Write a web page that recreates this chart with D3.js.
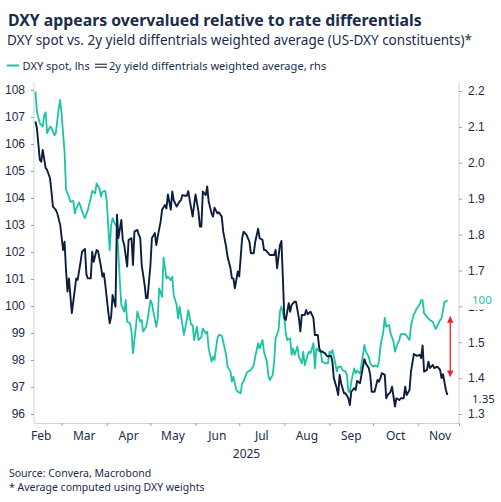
<!DOCTYPE html>
<html>
<head>
<meta charset="utf-8">
<script src="https://cdn.jsdelivr.net/npm/d3@7"></script>
<style>
  body { margin: 0; background: #fff; }
  svg { display: block; font-family: "Noto Sans", "Open Sans", sans-serif; }
</style>
</head>
<body>
<svg id="chart" width="501" height="502"></svg>
<script>
// DXY spot (lhs) – dates and levels
const dxyDates = [
  "02-11","02-12","02-14","02-16","02-17","02-18","02-19","02-21","02-22","02-24","02-25","02-27","02-28",
  "03-01","03-03","03-04","03-06","03-07","03-09","03-10","03-11","03-13","03-14","03-16","03-17","03-19",
  "03-21","03-22","03-24","03-25","03-27","03-28","03-29","03-31","04-01","04-03","04-04","04-05","04-07",
  "04-08","04-10","04-11","04-13","04-14","04-15","04-17","04-18","04-19","04-21","04-22","04-24","04-25",
  "04-26","04-28","04-29","05-01","05-02","05-03","05-05","05-06","05-07","05-09","05-10","05-12","05-13",
  "05-15","05-16","05-17","05-19","05-20","05-21","05-23","05-24","05-26","05-27","05-29","05-30","05-31",
  "06-02","06-03","06-05","06-06","06-08","06-09","06-10","06-12","06-13","06-14","06-16","06-17","06-19",
  "06-20","06-22","06-23","06-25","06-26","06-27","06-29","06-30","07-02","07-03","07-04","07-06","07-07",
  "07-09","07-11","07-12","07-14","07-15","07-17","07-18","07-20","07-21","07-22","07-24","07-25","07-26",
  "07-28","07-29","07-30","08-01","08-02","08-03","08-05","08-06","08-07","08-08","08-10","08-11","08-13",
  "08-14","08-15","08-17","08-18","08-19","08-21","08-22","08-23","08-25","08-26","08-27","08-29","08-31",
  "09-01","09-02","09-03","09-05","09-06","09-07","09-09","09-10","09-12","09-13","09-14","09-15","09-16",
  "09-18","09-19","09-20","09-22","09-24","09-25","09-26","09-28","09-29","10-01","10-02","10-04","10-05",
  "10-06","10-08","10-09","10-10","10-12","10-13","10-15","10-16","10-17","10-19","10-20","10-22","10-23",
  "10-24","10-26","10-27","10-29","10-30","10-31","11-02","11-03","11-04","11-05","11-07","11-08","11-09",
  "11-11","11-12","11-13","11-15","11-16","11-17","11-19","11-20","11-21"
];
const dxyValues = [
  107.94,107.2,106.77,106.64,107.07,107.17,106.4,106.64,106.6,106.33,106.4,107.32,107.63,
  107.07,105.71,104.3,104.05,103.86,103.89,103.43,103.61,103.84,103.68,103.37,103.25,103.56,
  103.99,104.26,104.17,104.54,104.36,104.05,104.23,104.26,103.86,102.07,103.0,103.25,103.0,
  102.94,100.9,100.04,99.79,100.22,99.42,99.36,99.05,98.25,99.23,99.79,99.42,99.48,
  99.05,99.23,99.48,100.22,100.1,99.79,99.23,99.54,100.65,100.34,101.79,101.02,101.09,
  100.96,101.09,100.4,100.04,99.54,99.98,99.3,98.93,99.48,99.85,99.3,99.3,98.74,
  99.23,98.74,98.86,99.17,98.99,99.05,98.43,97.94,98.12,98.0,98.8,98.93,98.9,
  98.68,98.19,97.75,97.57,97.2,97.38,96.89,96.83,96.77,97.14,97.2,97.51,97.57,
  97.63,97.81,98.12,98.62,98.43,98.74,98.31,97.94,97.44,97.26,97.44,97.94,98.8,
  99.1,99.79,99.98,99.54,98.99,98.74,98.8,98.19,98.43,98.19,98.5,98.12,97.88,
  98.31,97.81,98.19,98.31,98.25,98.62,97.69,98.43,98.31,98.31,97.94,97.88,97.88,
  98.31,98.25,98.37,97.88,97.57,97.75,97.75,97.63,97.57,97.44,96.85,96.8,97.2,
  97.69,97.51,97.6,97.5,98.19,98.56,98.31,98.12,97.88,97.75,97.8,97.75,97.94,
  98.5,99.05,99.57,99.23,99.3,98.99,98.68,98.31,98.5,98.74,98.96,98.96,98.96,
  98.9,98.74,99.27,99.7,99.79,99.91,100.06,100.22,100.22,99.73,99.6,99.54,99.48,
  99.42,99.27,99.15,99.36,99.48,99.54,100.16,100.16,100.22
];

// 2y yield differentials weighted average (rhs)
const diffDates = [
  "02-11","02-12","02-14","02-15","02-16","02-18","02-19","02-21","02-22","02-23","02-25","02-26","02-28",
  "03-02","03-03","03-04","03-05","03-06","03-08","03-10","03-11","03-12","03-14","03-15","03-17","03-18",
  "03-19","03-21","03-22","03-23","03-25","03-26","03-28","03-29","03-30","03-31","04-02","04-03","04-04",
  "04-05","04-07","04-08","04-09","04-11","04-12","04-13","04-15","04-16","04-18","04-19","04-20","04-22",
  "04-23","04-24","04-25","04-27","04-28","04-29","05-01","05-02","05-04","05-05","05-06","05-08","05-09",
  "05-11","05-12","05-13","05-15","05-16","05-17","05-19","05-21","05-22","05-23","05-25","05-26","05-27",
  "05-28","05-30","05-31","06-01","06-03","06-04","06-05","06-06","06-08","06-09","06-10","06-12","06-13",
  "06-14","06-16","06-17","06-19","06-20","06-22","06-23","06-25","06-26","06-27","06-28","06-30","07-01",
  "07-03","07-04","07-06","07-08","07-09","07-11","07-12","07-14","07-15","07-17","07-18","07-19","07-21",
  "07-22","07-23","07-25","07-26","07-27","07-29","07-30","07-31","08-01","08-02","08-04","08-05","08-06",
  "08-08","08-09","08-11","08-12","08-13","08-15","08-16","08-17","08-19","08-20","08-21","08-22","08-24",
  "08-25","08-26","08-27","08-29","08-30","08-31","09-02","09-03","09-04","09-06","09-07","09-08","09-09",
  "09-11","09-12","09-14","09-15","09-16","09-18","09-19","09-20","09-22","09-23","09-25","09-26","09-28",
  "09-29","09-30","10-02","10-04","10-05","10-06","10-07","10-09","10-10","10-11","10-13","10-14","10-16",
  "10-17","10-19","10-20","10-22","10-23","10-24","10-26","10-27","10-29","10-30","10-31","11-02","11-03",
  "11-04","11-05","11-07","11-08","11-09","11-11","11-12","11-14","11-15","11-16","11-17","11-18","11-20",
  "11-21"
];
const diffValues = [
  2.115,2.096,2.008,2.003,2.036,1.985,1.98,1.957,1.92,1.878,1.869,1.859,1.827,
  1.757,1.78,1.701,1.641,1.678,1.581,1.646,1.678,1.674,1.724,1.752,1.76,1.689,
  1.678,1.678,1.752,1.724,1.757,1.754,1.711,1.683,1.692,1.66,1.585,1.553,1.571,
  1.632,1.599,1.855,1.79,1.841,1.785,1.771,1.711,1.785,1.79,1.715,1.808,1.813,
  1.799,1.79,1.715,1.66,1.623,1.623,1.715,1.79,1.804,1.771,1.794,1.836,1.869,
  1.882,1.873,1.912,1.869,1.92,1.896,1.878,1.892,1.896,1.91,1.908,1.908,1.921,
  1.896,1.85,1.882,1.912,1.864,1.822,1.822,1.92,1.91,1.934,1.892,1.859,1.85,
  1.875,1.859,1.862,1.85,1.808,1.766,1.738,1.706,1.678,1.678,1.65,1.697,1.683,
  1.79,1.808,1.799,1.78,1.748,1.748,1.78,1.816,1.79,1.785,1.757,1.757,1.748,
  1.743,1.743,1.743,1.757,1.706,1.771,1.782,1.678,1.567,1.562,1.609,1.585,1.604,
  1.613,1.613,1.567,1.53,1.576,1.576,1.59,1.578,1.585,1.576,1.567,1.52,1.52,
  1.483,1.474,1.474,1.469,1.463,1.46,1.463,1.446,1.4,1.372,1.353,1.409,1.386,
  1.358,1.358,1.344,1.325,1.362,1.372,1.367,1.392,1.386,1.409,1.453,1.441,1.428,
  1.409,1.362,1.362,1.395,1.39,1.4,1.414,1.409,1.344,1.353,1.362,1.376,1.321,
  1.344,1.339,1.344,1.344,1.376,1.353,1.367,1.418,1.467,1.465,1.462,1.465,1.456,
  1.491,1.418,1.423,1.446,1.428,1.437,1.428,1.432,1.428,1.423,1.4,1.411,1.367,
  1.353
];

// axis ticks and labels
const leftTicks = [96, 97, 98, 99, 100, 101, 102, 103, 104, 105, 106, 107, 108];
const rightTicks = [1.3, 1.4, 1.5, 1.6, 1.7, 1.8, 1.9, 2.0, 2.1, 2.2];
const monthLabels = ["Feb", "Mar", "Apr", "May", "Jun", "Jul", "Aug", "Sep", "Oct", "Nov"];
const yearLabel = "2025";
const xStart = "02-10", xEnd = "11-29";

// end-of-series labels and the gap arrow
const dxyLast = "100";
const diffLast = "1.35";
const arrowDate = "11-23", arrowTop = 99.6, arrowBottom = 1.405;

const teal = "#1cc3a5", navy = "#0c1e3c", ink = "#1b2c4b", grid = "#d0d4da";

const parse = s => d3.timeParse("%Y-%m-%d")("2025-" + s);
const dxy = dxyDates.map((d, i) => ({ date: parse(d), value: dxyValues[i] }));
const diff = diffDates.map((d, i) => ({ date: parse(d), value: diffValues[i] }));

const svg = d3.select("#chart");
const plot = { left: 34, right: 459, top: 82, bottom: 423 };

const x = d3.scaleTime()
  .domain([parse(xStart), parse(xEnd)])
  .range([plot.left, plot.right]);
const yL = d3.scaleLinear().domain([95.667, 108.296]).range([plot.bottom, plot.top]);
const yR = d3.scaleLinear().domain([1.275, 2.225]).range([plot.bottom, plot.top]);

// titles
svg.append("text").attr("x", 8).attr("y", 25.5)
  .style("font-size", "15.8px").style("font-weight", "bold").style("fill", ink)
  .text("DXY appears overvalued relative to rate differentials");
svg.append("text").attr("x", 7).attr("y", 45)
  .style("font-size", "13.5px").style("fill", ink)
  .text("DXY spot vs. 2y yield diffentrials weighted average (US-DXY constituents)*");

// legend
const legend = svg.append("g").style("font-size", "11.1px").style("fill", ink);
legend.append("line").attr("x1", 7).attr("x2", 19).attr("y1", 65.5).attr("y2", 65.5)
  .attr("stroke", teal).attr("stroke-width", 2);
legend.append("text").attr("x", 22.5).attr("y", 69.5).text("DXY spot, lhs");
[64.3, 67.3].forEach(yy => legend.append("line").attr("x1", 95).attr("x2", 107)
  .attr("y1", yy).attr("y2", yy).attr("stroke", "#4a5568").attr("stroke-width", 1.4));
legend.append("text").attr("x", 109).attr("y", 69.5).text("2y yield diffentrials weighted average, rhs");

// axes frame
svg.append("line").attr("x1", plot.left).attr("x2", plot.left).attr("y1", plot.top).attr("y2", plot.bottom)
  .attr("stroke", grid);
svg.append("line").attr("x1", plot.right).attr("x2", plot.right).attr("y1", plot.top).attr("y2", plot.bottom)
  .attr("stroke", grid);

const leftAxis = svg.append("g").attr("transform", `translate(${plot.left},0)`)
  .call(d3.axisLeft(yL).tickValues(leftTicks).tickSize(3).tickPadding(6));
const rightAxis = svg.append("g").attr("transform", `translate(${plot.right},0)`)
  .call(d3.axisRight(yR).tickValues(rightTicks).tickSize(3).tickPadding(6).tickFormat(d3.format(".1f")));
const monthStarts = d3.timeMonth.range(parse("03-01"), parse("11-02")).concat([parse(xEnd)]);
const bottomAxis = svg.append("g").attr("transform", `translate(0,${plot.bottom})`)
  .call(d3.axisBottom(x).tickValues(monthStarts).tickSize(3).tickSizeOuter(0).tickFormat(""));

[leftAxis, rightAxis, bottomAxis].forEach(g => {
  g.select(".domain").attr("stroke", grid);
  g.selectAll(".tick line").attr("stroke", "#9aa1ab");
  g.selectAll("text").style("font-size", "12px").style("fill", ink).style("font-family", "inherit");
});
leftAxis.select(".domain").remove();
rightAxis.select(".domain").remove();

// month labels centred on each month
svg.append("g").selectAll("text").data(monthLabels).join("text")
  .attr("x", (m, i) => {
    const a = d3.timeMonth.offset(parse("02-01"), i);
    return (x(a) + x(d3.timeMonth.offset(a, 1))) / 2;
  })
  .attr("y", 440).attr("text-anchor", "middle")
  .style("font-size", "12px").style("fill", ink).text(m => m);
svg.append("text").attr("x", (plot.left + plot.right) / 2).attr("y", 457.5).attr("text-anchor", "middle")
  .style("font-size", "12px").style("fill", ink).text(yearLabel);

// series
const lineL = d3.line().x(d => x(d.date)).y(d => yL(d.value));
const lineR = d3.line().x(d => x(d.date)).y(d => yR(d.value));

svg.append("path").datum(dxy).attr("d", lineL)
  .attr("fill", "none").attr("stroke", teal).attr("stroke-width", 1.8).attr("stroke-linejoin", "round");
svg.append("path").datum(diff).attr("d", lineR)
  .attr("fill", "none").attr("stroke", navy).attr("stroke-width", 1.9).attr("stroke-linejoin", "round");

// end labels (the DXY label sits on a white box over the 1.6 tick label, as in the source)
const lastD = dxy[dxy.length - 1];
const lbl = svg.append("g");
lbl.append("rect").attr("x", 463).attr("y", yL(lastD.value) - 8).attr("width", 32).attr("height", 17.5)
  .attr("fill", "#fff");
lbl.append("text").attr("x", 472).attr("y", yL(lastD.value) + 4)
  .style("font-size", "11.5px").style("fill", teal).text(dxyLast);
const lastR = diff[diff.length - 1];
lbl.append("text").attr("x", 472).attr("y", yR(lastR.value) + 8)
  .style("font-size", "11.5px").style("fill", ink).text(diffLast);

// red double-headed arrow
const defs = svg.append("defs");
defs.append("marker").attr("id", "ah").attr("viewBox", "0 0 10 10").attr("refX", 9).attr("refY", 5)
  .attr("markerWidth", 5).attr("markerHeight", 5).attr("orient", "auto-start-reverse")
  .append("path").attr("d", "M0,0L10,5L0,10z").attr("fill", "#e8262a");
svg.append("line")
  .attr("x1", x(parse(arrowDate))).attr("x2", x(parse(arrowDate)))
  .attr("y1", yL(arrowTop)).attr("y2", yR(arrowBottom))
  .attr("stroke", "#e8262a").attr("stroke-width", 1.3)
  .attr("marker-start", "url(#ah)").attr("marker-end", "url(#ah)");

// footer
svg.append("text").attr("x", 9).attr("y", 477).style("font-size", "10.5px").style("fill", ink)
  .text("Source: Convera, Macrobond");
svg.append("text").attr("x", 9).attr("y", 490.5).style("font-size", "10.5px").style("fill", ink)
  .text("* Average computed using DXY weights");
</script>
</body>
</html>
